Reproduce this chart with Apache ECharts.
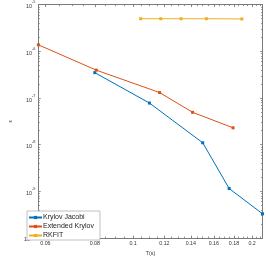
<!DOCTYPE html>
<html><head><meta charset="utf-8">
<script src="https://cdn.jsdelivr.net/npm/echarts@6/dist/echarts.min.js"></script>
<style>html,body{margin:0;padding:0;background:#fff}#c{width:266px;height:261px}</style>
</head><body><div id="c"></div>
<script>
// ---- data ----
const seriesNames = ['Krylov Jacobi', 'Extended Krylov', 'RKFIT'];
const kjT   = [0.08, 0.110, 0.150, 0.175, 0.2125];
const kjErr = [3.5e-7, 7.8e-8, 1.1e-8, 1.15e-9, 3.3e-10];
const ekT   = [0.0576, 0.0807, 0.1167, 0.1414, 0.179];
const ekErr = [1.38e-6, 3.96e-7, 1.31e-7, 4.94e-8, 2.3e-8];
const rkT   = [0.1045, 0.1175, 0.1322, 0.1533, 0.1884];
const rkErr = [5.0e-6, 5.0e-6, 5.0e-6, 5.0e-6, 4.95e-6];
const xTickLabels = [0.06, 0.08, 0.1, 0.12, 0.14, 0.16, 0.18, 0.2];
const yTickExps = [-10, -9, -8, -7, -6, -5];
const xLimits = [0.0576, 0.2125];
const yLimits = [1e-10, 1e-5];

// ---- helpers ----
const L = Math.log10;
const xMinorTicks = [];
for (let k = 12; k <= 42; k++) xMinorTicks.push(L(k * 0.005));
const yMinorTicks = [];
for (let e = -10; e < -5; e++) for (let k = 2; k <= 9; k++) yMinorTicks.push(L(k) + e);

const font = 'Liberation Sans, Arial, sans-serif';
const axisCol = '#7a7a7a';
const toPts = (xs, ys) => xs.map((x, i) => [L(x), L(ys[i])]);

function xAx(pos, ticks, len, major) {
  return {
    type: 'value', position: pos, min: L(xLimits[0]), max: L(xLimits[1]),
    splitLine: {show: false},
    axisLine: {show: major, onZero: false, lineStyle: {color: axisCol, width: 1}},
    axisTick: {show: true, inside: true, length: len, customValues: ticks, lineStyle: {color: axisCol, width: 0.8}},
    axisLabel: (major && pos === 'bottom') ? {
      show: true, customValues: xTickLabels.map(L), margin: 3,
      fontSize: 5.3, fontFamily: font, color: '#333',
      formatter: v => String(Number(Math.pow(10, v).toFixed(2)))
    } : {show: false},
    name: (major && pos === 'bottom') ? 'T(s)' : '',
    nameLocation: 'middle', nameGap: 13,
    nameTextStyle: {fontSize: 5.3, fontFamily: font, color: '#333'}
  };
}
function yAx(pos, ticks, len, major) {
  return {
    type: 'value', position: pos, min: L(yLimits[0]), max: L(yLimits[1]),
    splitLine: {show: false},
    axisLine: {show: major, onZero: false, lineStyle: {color: axisCol, width: 1}},
    axisTick: {show: true, inside: true, length: len, customValues: ticks, lineStyle: {color: axisCol, width: 0.8}},
    axisLabel: (major && pos === 'left') ? {
      show: true, customValues: yTickExps, margin: 3,
      fontFamily: font, color: '#333',
      formatter: v => '{b|10}{s|' + Math.round(v) + '}',
      rich: {
        b: {fontSize: 5.4, fontFamily: font, color: '#333', verticalAlign: 'bottom', lineHeight: 9},
        s: {fontSize: 3.8, fontFamily: font, color: '#333', verticalAlign: 'top', lineHeight: 9}
      }
    } : {show: false},
    name: (major && pos === 'left') ? 'ε' : '',
    nameLocation: 'middle', nameGap: 21,
    nameTextStyle: {fontSize: 5.3, fontFamily: font, color: '#333'}
  };
}

const colors = ['#0072BD', '#D95319', '#EDB120'];
const datasets = [toPts(kjT, kjErr), toPts(ekT, ekErr), toPts(rkT, rkErr)];

const chart = echarts.init(document.getElementById('c'), null, {renderer: 'canvas'});
chart.setOption({
  animation: false,
  backgroundColor: '#fff',
  color: colors,
  grid: {left: 25.5, right: 3.5, top: 4.7, bottom: 19, containLabel: false},
  xAxis: [
    xAx('bottom', xTickLabels.map(L), 2.4, true),
    xAx('bottom', xMinorTicks, 1.4, false),
    xAx('top', xTickLabels.map(L), 2.4, true),
    xAx('top', xMinorTicks, 1.4, false)
  ],
  yAxis: [
    yAx('left', yTickExps, 2.4, true),
    yAx('left', yMinorTicks, 1.4, false),
    yAx('right', yTickExps, 2.4, true),
    yAx('right', yMinorTicks, 1.4, false)
  ],
  legend: {
    orient: 'vertical', left: 27, top: 211,
    itemWidth: 13, itemHeight: 4, itemGap: 2,
    padding: [3, 6, 1, 1],
    borderColor: '#b0b0b0', borderWidth: 0.8, backgroundColor: '#fff',
    textStyle: {fontSize: 7, lineHeight: 7, fontFamily: font, color: '#222', padding: [0, 0, 0, -4]},
    data: seriesNames
  },
  series: seriesNames.map((n, i) => ({
    name: n, type: 'line', data: datasets[i],
    xAxisIndex: 0, yAxisIndex: 0, clip: false,
    symbol: 'rect', symbolSize: 3, showSymbol: true,
    lineStyle: {width: 1, color: colors[i]},
    itemStyle: {color: colors[i]}
  }))
});
</script></body></html>
